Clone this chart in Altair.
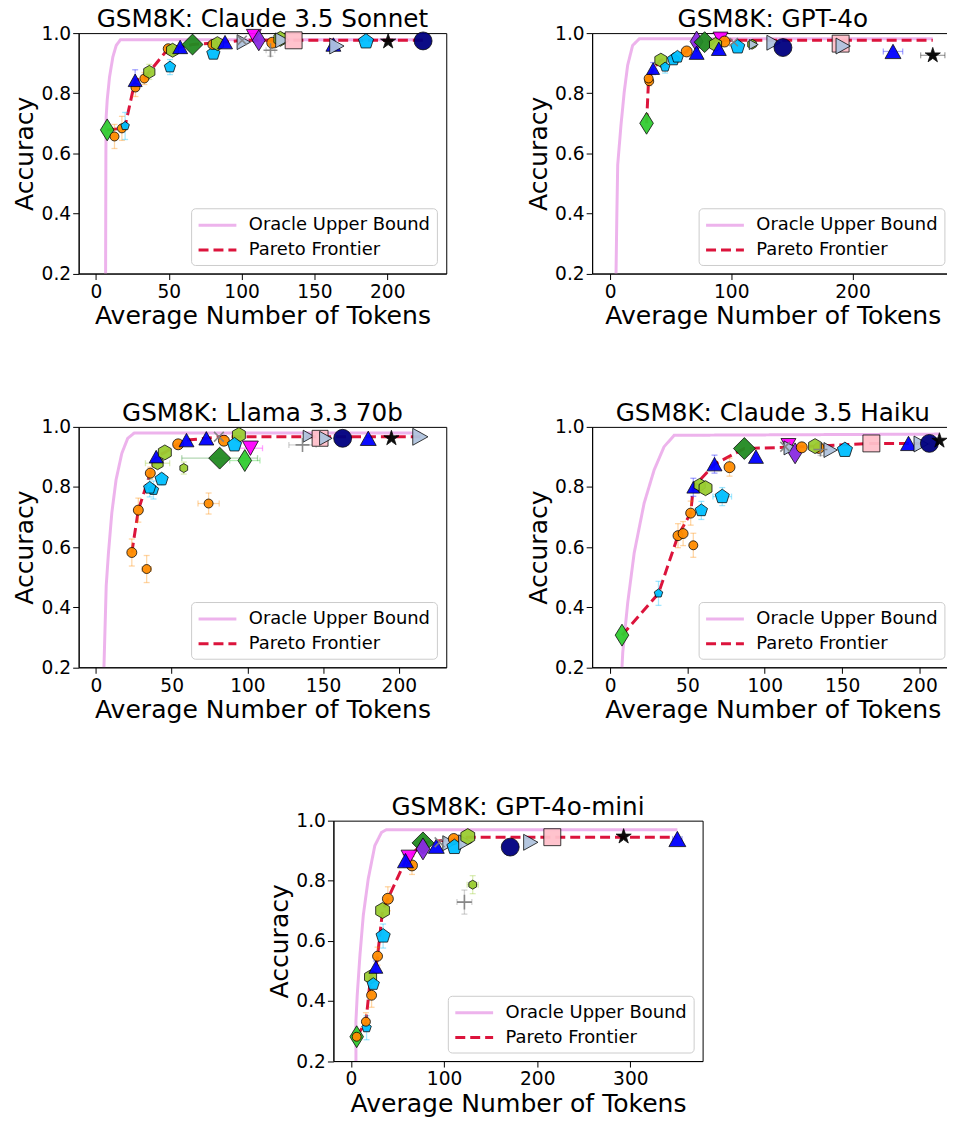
import altair as alt
import pandas as pd

FONT = "DejaVu Sans"
ORACLE_COLOR = "#EDB3EC"
PARETO_COLOR = "#DC143C"
SERIES = ["Oracle Upper Bound", "Pareto Frontier"]

SHAPES = {
    "o": "circle",
    "N": "circle",
    "p": "M0,-1L0.951,-0.309L0.588,0.809L-0.588,0.809L-0.951,-0.309Z",
    "h": "M0,-1L0.866,-0.5L0.866,0.5L0,1L-0.866,0.5L-0.866,-0.5Z",
    "^": "M0,-0.9L1,0.9L-1,0.9Z",
    "v": "M0,0.9L1,-0.9L-1,-0.9Z",
    ">": "M0.9,0L-0.9,-1L-0.9,1Z",
    "s": "M-1,-1L1,-1L1,1L-1,1Z",
    "D": "M0,-1L1,0L0,1L-1,0Z",
    "d": "M0,-1L0.62,0L0,1L-0.62,0Z",
    "P": "M0,-1L0.62,0L0,1L-0.62,0Z",
    "*": "M0,-1L0.2245,-0.309L0.951,-0.309L0.363,0.118L0.588,0.809L0,0.382L-0.588,0.809L-0.363,0.118L-0.951,-0.309L-0.2245,-0.309Z",
    "x": "M-0.7,-0.7L0.7,0.7M-0.7,0.7L0.7,-0.7",
    "+": "M-1,0L1,0M0,-1L0,1",
}
FILLS = {
    "o": "#FF8C00", "p": "#00BFFF", "^": "#0000FF", "h": "#9ACD32",
    "D": "#228B22", "d": "#32CD32", "P": "#8A2BE2", "v": "#FF00FF",
    ">": "#B0C4DE", "s": "#FFC0CB", "N": "#000080", "*": "#000000",
    "x": "#808080", "+": "#808080",
}
LINE_MARKERS = ["x", "+"]

# ---------------- Panel 1: Claude 3.5 Sonnet ----------------
p1_x = [7.7, 12.7, 17.8, 20.0, 27.1, 26.9, 33.2, 36.6, 50.8, 49.6, 52.6, 57.8, 66.3, 80.6, 80.2, 83.4,
        88.6, 100.4, 101.5, 108.4, 111.8, 119.8, 121.0, 126.6, 128.0, 135.7, 163.0, 165.4, 185.4, 200.6, 224.6]
p1_y = [0.678, 0.656, 0.683, 0.691, 0.819, 0.843, 0.849, 0.871, 0.887, 0.948, 0.943, 0.954, 0.962, 0.932,
        0.962, 0.965, 0.970, 0.976, 0.970, 0.990, 0.976, 0.943, 0.968, 0.981, 0.976, 0.976, 0.962, 0.957,
        0.972, 0.972, 0.974]
p1_m = ["d", "o", "o", "p", "o", "^", "o", "h", "p", "o", "h", "^", "D", "p", "o", "h",
        "^", "x", ">", "v", "P", "+", "o", "h", ">", "s", "^", ">", "p", "*", "N"]
p1_w = [22, 9, 9, 9, 9, 14, 9, 13, 12, 10, 14, 15, 21, 14, 10, 14,
        15, 13, 15, 15, 21, 14, 11, 15, 15, 17, 15, 16, 16, 16, 18]
p1_ex = [0, 1.5, 1.5, 1, 1, 0, 0, 0, 0, 0, 0, 0, 0, 0, 0, 0,
         0, 0, 0, 0, 0, 3, 0, 0, 0, 0, 0, 0, 0, 0, 0]
p1_ey = [0, 0.04, 0.04, 0.045, 0.03, 0.035, 0.02, 0.025, 0.025, 0, 0, 0, 0, 0, 0, 0,
         0, 0, 0, 0, 0, 0.02, 0, 0, 0, 0, 0, 0, 0, 0, 0]
p1_oracle_x = [6.6, 6.8, 7.0, 7.7, 9.3, 11.6, 13.9, 16.8, 224.6]
p1_oracle_y = [0.2, 0.6, 0.722, 0.777, 0.854, 0.921, 0.959, 0.978, 0.978]
p1_front_x = [7.7, 17.8, 20.0, 26.9, 33.2, 36.6, 49.6, 57.8, 66.3, 88.6, 100.4, 224.6]
p1_front_y = [0.678, 0.683, 0.691, 0.843, 0.849, 0.871, 0.948, 0.954, 0.962, 0.970, 0.976, 0.976]

# ---------------- Panel 2: GPT-4o ----------------
p2_x = [30.1, 32.3, 31.8, 35.5, 41.9, 45.4, 52.3, 55.6, 63.2, 71.4, 78.0, 71.4, 91.1, 94.4, 87.0,
        89.7, 102.0, 105.3, 117.1, 118.5, 134.9, 142.6, 190.2, 192.3, 233.4, 266.2]
p2_y = [0.700, 0.840, 0.849, 0.882, 0.910, 0.887, 0.912, 0.921, 0.939, 0.972, 0.970, 0.935, 0.981,
        0.972, 0.962, 0.948, 0.970, 0.954, 0.963, 0.962, 0.968, 0.952, 0.965, 0.957, 0.939, 0.926]
p2_m = ["d", "o", "o", "^", "h", "p", "p", "p", "o", "P", "D", "^", "v", "o", "h",
        "^", "x", "p", "h", ">", ">", "N", "s", ">", "^", "*"]
p2_w = [22, 9, 9, 13, 14, 10, 13, 13, 11, 21, 21, 15, 15, 11, 14,
        15, 12, 15, 10, 10, 15, 18, 17, 16, 16, 16]
p2_ex = [0, 0, 0, 0, 0, 0, 0, 0, 0, 0, 0, 0, 0, 0, 0,
         0, 0, 0, 0, 0, 0, 0, 0, 0, 8, 10]
p2_ey = [0, 0.015, 0, 0.02, 0, 0.02, 0, 0, 0, 0, 0, 0, 0, 0, 0,
         0, 0, 0, 0, 0, 0, 0, 0, 0, 0, 0]
p2_oracle_x = [4.9, 5.6, 6.3, 9.0, 11.7, 14.5, 18.6, 24.1, 266.2]
p2_oracle_y = [0.2, 0.4, 0.562, 0.694, 0.805, 0.893, 0.959, 0.981, 0.981]
p2_front_x = [30.1, 31.8, 35.5, 41.9, 55.6, 63.2, 71.4, 91.1, 266.2]
p2_front_y = [0.700, 0.849, 0.882, 0.910, 0.921, 0.939, 0.970, 0.976, 0.976]

# ---------------- Panel 3: Llama 3.3 70b ----------------
p3_x = [23.7, 33.5, 28.0, 38.0, 35.5, 43.4, 35.9, 40.7, 39.8, 45.5, 54.3, 59.8, 58.0, 74.4, 72.9,
        81.2, 81.7, 84.5, 94.4, 91.5, 98.3, 102.0, 136.4, 140.4, 148.0, 151.8, 162.9, 179.8, 195.1, 214.2]
p3_y = [0.582, 0.527, 0.723, 0.790, 0.797, 0.826, 0.846, 0.879, 0.901, 0.915, 0.942, 0.956, 0.863,
        0.745, 0.962, 0.967, 0.896, 0.954, 0.973, 0.940, 0.888, 0.929, 0.940, 0.969, 0.962, 0.962,
        0.962, 0.962, 0.962, 0.967]
p3_m = ["o", "o", "o", "p", "p", "p", "o", "h", "^", "h", "o", "^", "h", "o", "^",
        "x", "D", "o", "h", "p", "d", "v", "+", ">", "s", ">", "N", "^", "*", ">"]
p3_w = [10, 9, 10, 11, 13, 14, 10, 13, 14, 15, 11, 15, 9, 9, 15,
        14, 22, 11, 15, 15, 22, 16, 14, 12, 16, 14, 18, 16, 16, 17]
p3_ex = [0, 3, 0, 0, 0, 0, 0, 8, 0, 0, 0, 0, 0, 7, 0,
         0, 25, 0, 0, 0, 10, 8, 9, 0, 0, 0, 0, 0, 0, 0]
p3_ey = [0.045, 0.045, 0.04, 0.03, 0.03, 0.02, 0.02, 0, 0, 0, 0, 0, 0.02, 0.035, 0,
         0, 0, 0, 0, 0, 0, 0, 0, 0, 0, 0, 0, 0, 0, 0]
p3_oracle_x = [5.3, 6.8, 8.3, 10.5, 13.3, 17.1, 21.0, 25.4, 214.2]
p3_oracle_y = [0.2, 0.472, 0.582, 0.714, 0.824, 0.912, 0.962, 0.980, 0.980]
p3_front_x = [23.7, 28.0, 35.9, 39.8, 45.5, 54.3, 59.8, 72.9, 81.2, 214.2]
p3_front_y = [0.582, 0.723, 0.846, 0.901, 0.915, 0.942, 0.956, 0.962, 0.967, 0.967]

# ---------------- Panel 4: Claude 3.5 Haiku ----------------
p4_x = [7.7, 31.3, 43.9, 47.2, 53.8, 52.1, 59.0, 53.8, 57.9, 61.7, 72.5, 67.5, 77.2, 86.8, 94.3,
        113.2, 115.3, 116.5, 119.6, 123.9, 135.0, 136.0, 132.5, 142.6, 151.8, 168.9, 192.9, 201.1, 206.4, 212.9]
p4_y = [0.307, 0.446, 0.638, 0.645, 0.606, 0.713, 0.722, 0.799, 0.807, 0.796, 0.768, 0.876, 0.866,
        0.928, 0.901, 0.934, 0.939, 0.930, 0.912, 0.932, 0.930, 0.925, 0.936, 0.923, 0.923, 0.945,
        0.945, 0.943, 0.945, 0.954]
p4_m = ["d", "p", "o", "o", "o", "o", "p", "^", "h", "h", "p", "^", "o", "D", "^",
        "x", "v", ">", "P", "o", "o", "+", "h", ">", "p", "s", "^", ">", "N", "*"]
p4_w = [22, 9, 10, 10, 9, 10, 13, 13, 13, 15, 15, 15, 11, 22, 15,
        14, 15, 14, 21, 11, 11, 14, 15, 15, 16, 17, 16, 16, 18, 16]
p4_ex = [0, 0, 0, 0, 0, 0, 0, 0, 0, 0, 6, 0, 0, 0, 0,
         0, 0, 0, 0, 0, 0, 0, 0, 0, 0, 0, 0, 0, 0, 0]
p4_ey = [0, 0.04, 0.04, 0.04, 0.04, 0.04, 0.03, 0.03, 0, 0, 0.03, 0.03, 0.03, 0, 0,
         0, 0, 0, 0, 0, 0, 0.02, 0, 0, 0, 0, 0, 0, 0, 0]
p4_oracle_x = [7.7, 8.2, 11.4, 15.6, 22.0, 28.5, 34.9, 41.4, 212.9]
p4_oracle_y = [0.2, 0.25, 0.415, 0.581, 0.746, 0.857, 0.934, 0.972, 0.976]
p4_front_x = [7.7, 31.3, 43.9, 52.1, 53.8, 67.5, 86.8, 115.3, 132.5, 168.9, 206.4]
p4_front_y = [0.307, 0.446, 0.638, 0.713, 0.799, 0.876, 0.928, 0.932, 0.936, 0.945, 0.945]

# ---------------- Panel 5: GPT-4o-mini ----------------
p5_x = [6.1, 6.1, 16.7, 16.0, 22.1, 21.0, 23.9, 26.7, 28.5, 34.5, 33.9, 39.6, 65.5, 62.3, 58.5,
        77.3, 77.3, 91.6, 95.1, 105.8, 110.4, 111.1, 122.9, 125.4, 130.7, 121.8, 171.0, 193.1, 216.2,
        292.8, 350.5]
p5_y = [0.281, 0.281, 0.311, 0.331, 0.419, 0.480, 0.456, 0.513, 0.549, 0.616, 0.701, 0.740, 0.851,
        0.878, 0.867, 0.926, 0.906, 0.915, 0.928, 0.925, 0.939, 0.912, 0.928, 0.947, 0.787, 0.729,
        0.912, 0.928, 0.945, 0.947, 0.939]
p5_m = ["d", "o", "p", "o", "o", "h", "p", "^", "o", "p", "h", "o", "o", "v", "^",
        "D", "P", "^", "x", ">", "o", "p", ">", "h", "h", "+", "N", ">", "s", "*", "^"]
p5_w = [22, 9, 10, 9, 10, 14, 13, 14, 10, 15, 16, 11, 11, 16, 16,
        22, 22, 16, 14, 15, 11, 16, 15, 16, 9, 15, 18, 16, 17, 16, 17]
p5_ex = [0, 0, 0, 0, 0, 0, 0, 0, 0, 0, 0, 0, 0, 0, 0,
         0, 0, 0, 0, 0, 0, 0, 0, 0, 6, 8, 0, 0, 0, 0, 5]
p5_ey = [0, 0, 0.04, 0.03, 0.04, 0, 0, 0.02, 0.03, 0.04, 0, 0.04, 0.03, 0, 0.02,
         0, 0, 0, 0, 0, 0, 0, 0, 0, 0.03, 0.04, 0, 0, 0, 0, 0]
p5_oracle_x = [5.3, 5.3, 6.7, 9.6, 13.2, 18.5, 25.6, 32.8, 38.1, 350.5]
p5_oracle_y = [0.2, 0.334, 0.42, 0.552, 0.685, 0.806, 0.917, 0.961, 0.970, 0.970]
p5_front_x = [6.1, 16.0, 21.0, 26.7, 28.5, 33.9, 39.6, 58.5, 62.3, 77.3, 110.4, 125.4, 350.5]
p5_front_y = [0.281, 0.331, 0.480, 0.513, 0.549, 0.701, 0.740, 0.867, 0.878, 0.926, 0.939, 0.945, 0.945]

PLOT_H = 241.6


def make_panel(title, xs, ys, ms, ws, exs, eys, ox, oy, fx, fy, xdom, xticks, width):
    xscale = alt.Scale(domain=xdom, nice=False, zero=False)
    yscale = alt.Scale(domain=[0.2, 1.0], nice=False, zero=False)
    xaxis = alt.Axis(values=xticks, title="Average Number of Tokens", format="d")
    yaxis = alt.Axis(values=[0.2, 0.4, 0.6, 0.8, 1.0], title="Accuracy", format=".1f")

    def X(f):
        return alt.X(f, type="quantitative", scale=xscale, axis=xaxis)

    def Y(f):
        return alt.Y(f, type="quantitative", scale=yscale, axis=yaxis)

    leg = alt.Legend(
        title=None, orient="bottom-right", offset=9,
        symbolType="M-1,0L3,0", symbolSize=361, symbolStrokeWidth=3,
        labelFont=FONT, labelFontSize=18, labelColor="black", labelOffset=30,
        labelLimit=400, fillColor="white", strokeColor="#CCCCCC", cornerRadius=4,
        padding=6, rowPadding=5,
    )
    color = alt.Color("series:N", scale=alt.Scale(domain=SERIES, range=[ORACLE_COLOR, PARETO_COLOR]), legend=leg)
    dash = alt.StrokeDash("series:N", scale=alt.Scale(domain=SERIES, range=[[1, 0], [10, 5]]), legend=leg)

    odf = pd.DataFrame({"x": ox, "y": oy, "series": SERIES[0], "ord": list(range(len(ox)))})
    fdf = pd.DataFrame({"x": fx, "y": fy, "series": SERIES[1], "ord": list(range(len(fx)))})
    oracle = alt.Chart(odf).mark_line(strokeWidth=3, clip=True).encode(
        x=X("x"), y=Y("y"), color=color, strokeDash=dash, order="ord:Q")
    front = alt.Chart(fdf).mark_line(strokeWidth=3, clip=True).encode(
        x=X("x"), y=Y("y"), color=color, strokeDash=dash, order="ord:Q")

    pts = pd.DataFrame({"x": xs, "y": ys, "m": ms, "w": ws, "ex": exs, "ey": eys})
    pts["shape"] = pts["m"].map(SHAPES)
    pts["fill"] = pts["m"].map(FILLS)
    pts["size"] = pts["w"] ** 2

    layers = [oracle, front]

    xe = pts[pts["ex"] > 0].copy()
    if len(xe):
        xe["lo"] = xe["x"] - xe["ex"]
        xe["hi"] = xe["x"] + xe["ex"]
        layers.append(alt.Chart(xe).mark_rule(strokeWidth=1.3, opacity=0.35).encode(
            x=X("lo"), x2="hi", y=Y("y"), stroke=alt.Stroke("fill:N", scale=None)))
        caps = pd.concat([xe.assign(cx=xe["lo"]), xe.assign(cx=xe["hi"])])
        layers.append(alt.Chart(caps).mark_point(shape="M0,-1L0,1", size=36, strokeWidth=1.3, opacity=0.35).encode(
            x=X("cx"), y=Y("y"), stroke=alt.Stroke("fill:N", scale=None)))
    ye = pts[pts["ey"] > 0].copy()
    if len(ye):
        ye["lo"] = ye["y"] - ye["ey"]
        ye["hi"] = ye["y"] + ye["ey"]
        layers.append(alt.Chart(ye).mark_rule(strokeWidth=1.3, opacity=0.35).encode(
            x=X("x"), y=Y("lo"), y2="hi", stroke=alt.Stroke("fill:N", scale=None)))
        caps = pd.concat([ye.assign(cy=ye["lo"]), ye.assign(cy=ye["hi"])])
        layers.append(alt.Chart(caps).mark_point(shape="M-1,0L1,0", size=36, strokeWidth=1.3, opacity=0.35).encode(
            x=X("x"), y=Y("cy"), stroke=alt.Stroke("fill:N", scale=None)))

    filled = pts[~pts["m"].isin(LINE_MARKERS)]
    lined = pts[pts["m"].isin(LINE_MARKERS)]
    layers.append(alt.Chart(filled).mark_point(filled=True, opacity=0.95, stroke="black", strokeWidth=0.8).encode(
        x=X("x"), y=Y("y"),
        shape=alt.Shape("shape:N", scale=None),
        fill=alt.Fill("fill:N", scale=None),
        size=alt.Size("size:Q", scale=None),
    ))
    if len(lined):
        layers.append(alt.Chart(lined).mark_point(filled=False, opacity=0.9, strokeWidth=1.6).encode(
            x=X("x"), y=Y("y"),
            shape=alt.Shape("shape:N", scale=None),
            stroke=alt.Stroke("fill:N", scale=None),
            size=alt.Size("size:Q", scale=None),
        ))

    return alt.layer(*layers).properties(
        width=width, height=PLOT_H,
        title=alt.TitleParams(title, font=FONT, fontSize=24.8, fontWeight="normal", color="black",
                              anchor="middle", frame="group", offset=-27.8, baseline="alphabetic"),
    )


p1 = make_panel("GSM8K: Claude 3.5 Sonnet", p1_x, p1_y, p1_m, p1_w, p1_ex, p1_ey,
                p1_oracle_x, p1_oracle_y, p1_front_x, p1_front_y, [-11.9, 240.5], [0, 50, 100, 150, 200], 369.4)
p2 = make_panel("GSM8K: GPT-4o", p2_x, p2_y, p2_m, p2_w, p2_ex, p2_ey,
                p2_oracle_x, p2_oracle_y, p2_front_x, p2_front_y, [-14.8, 283.2], [0, 100, 200], 363)
p3 = make_panel("GSM8K: Llama 3.3 70b", p3_x, p3_y, p3_m, p3_w, p3_ex, p3_ey,
                p3_oracle_x, p3_oracle_y, p3_front_x, p3_front_y, [-11.4, 231.3], [0, 50, 100, 150, 200], 369.4)
p4 = make_panel("GSM8K: Claude 3.5 Haiku", p4_x, p4_y, p4_m, p4_w, p4_ex, p4_ey,
                p4_oracle_x, p4_oracle_y, p4_front_x, p4_front_y, [-11.6, 221.9], [0, 50, 100, 150, 200], 363)
p5 = make_panel("GSM8K: GPT-4o-mini", p5_x, p5_y, p5_m, p5_w, p5_ex, p5_ey,
                p5_oracle_x, p5_oracle_y, p5_front_x, p5_front_y, [-18.9, 377.6], [0, 100, 200, 300], 371)

spacer = alt.Chart(pd.DataFrame({"v": [0]})).mark_point(opacity=0).encode(
    x=alt.X("v:Q", axis=None), y=alt.Y("v:Q", axis=None)
).properties(width=188.5, height=10, view=alt.ViewBackground(stroke="transparent"))


def indep(c):
    return c.resolve_scale(color="independent", strokeDash="independent").resolve_legend(
        color="independent", strokeDash="independent")


row1 = indep(alt.hconcat(p1, p2, spacing=79))
row2 = indep(alt.hconcat(p3, p4, spacing=79))
row3 = indep(alt.hconcat(spacer, p5, spacing=0))

chart = indep(alt.vconcat(row1, row2, row3, spacing=70.7)).properties(
    padding={"left": 4, "top": -4.5, "right": -7.4, "bottom": 4}
).configure_view(stroke="black", strokeWidth=1).configure_axis(
    labelFont=FONT, titleFont=FONT, labelFontSize=18.7, titleFontSize=25.2, titleFontWeight="normal",
    labelColor="black", titleColor="black", tickColor="black", domainColor="black", grid=False,
    tickSize=6, domainWidth=1, tickWidth=1, labelFlush=False,
).configure_axisX(labelPadding=3, titlePadding=3).configure_axisY(labelPadding=2, titlePadding=3.5)

chart.save("out.html", embed_options={"renderer": "svg", "actions": False})
